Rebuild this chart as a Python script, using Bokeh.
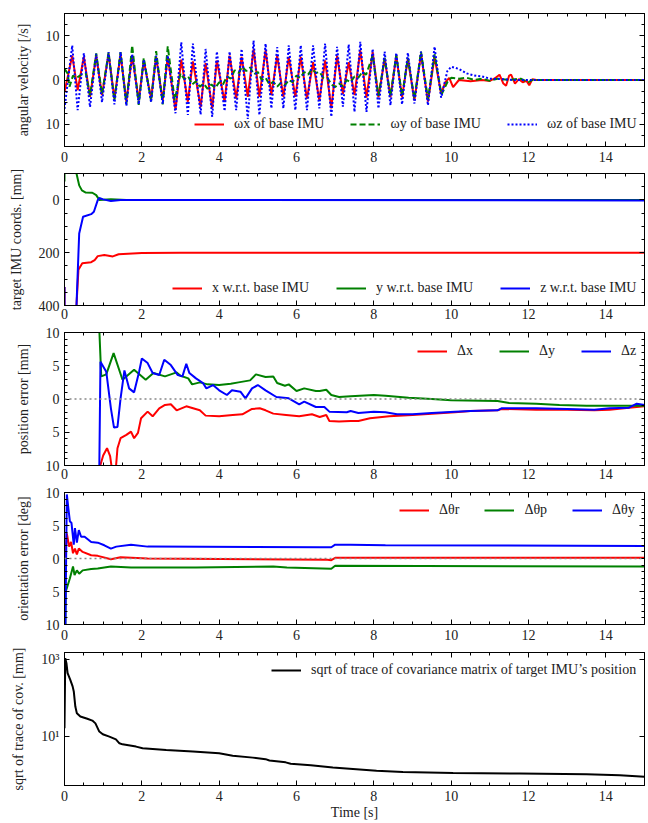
from bokeh.plotting import figure
from bokeh.models import (Range1d, FixedTicker, LinearAxis, LogAxis, Span, Legend, LegendItem)
from bokeh.layouts import column
from bokeh.embed import file_html
from bokeh.resources import INLINE

# ---------------- data ----------------
x_ticks = [0, 2, 4, 6, 8, 10, 12, 14]

# panel 1: angular velocity [/s] (extrema)
wx_pts = [(0.0, -2.7), (0.2, 5.5), (0.34, -2.3), (0.5, 5.2), (0.66, -3.8), (0.82, 5.5), (0.97, -3.4),
          (1.14, 5.9), (1.29, -4.2), (1.45, 5.7), (1.6, -4.9), (1.75, 5.5), (1.92, -4.6), (2.05, 4.4),
          (2.24, -4.2), (2.37, 5.2), (2.54, -4.6), (2.67, 5.2), (2.87, -6.8), (3.02, 4.6), (3.19, -4.9),
          (3.32, 4.2), (3.52, -6.1), (3.65, 3.8), (3.82, -6.4), (3.94, 4.4), (4.14, -4.9), (4.27, 5.5),
          (4.44, -4.2), (4.58, 5.2), (4.74, -3.8), (4.89, 6.9), (5.04, -3.8), (5.2, 6.7), (5.35, -3.4),
          (5.5, 5.5), (5.66, -3.8), (5.8, 5.2), (5.97, -3.8), (6.11, 5.2), (6.27, -4.2), (6.43, 4.0),
          (6.59, -4.6), (6.74, 4.4), (6.9, -6.4), (7.05, 5.5), (7.2, -3.1), (7.35, 4.0), (7.5, -3.4),
          (7.65, 6.7), (7.81, -4.0), (7.97, 6.3), (8.12, -3.9), (8.28, 4.8), (8.43, -3.9), (8.58, 5.5),
          (8.73, -3.9), (8.88, 4.8), (9.05, -4.6), (9.22, 5.9), (9.4, -4.9), (9.57, 5.2), (9.74, -3.1),
          (9.85, -0.5), (9.95, 0.5), (10.05, -1.6), (10.2, 0.0), (10.5, -0.3), (10.8, 0.0), (11.0, -0.2),
          (11.15, 0.5), (11.25, 1.2), (11.35, -0.8), (11.42, -1.3), (11.5, 1.0), (11.55, 1.2),
          (11.65, -0.8), (11.75, 0.2), (11.85, -0.5), (11.95, -0.2), (12.02, -1.2), (12.1, 0.2),
          (12.2, 0.0), (15.0, 0.0)]
wy_pts = [(0.0, 2.5), (0.08, 1.5), (0.13, -1.5), (0.22, 1.0), (0.3, 0.4), (0.45, 1.3), (0.55, 1.6),
          (0.66, -3.5), (0.82, 6.0), (0.97, -3.2), (1.14, 6.2), (1.29, -4.6), (1.45, 6.3), (1.6, -5.5),
          (1.75, 7.8), (1.92, -5.6), (2.05, 5.0), (2.24, -4.8), (2.37, 6.5), (2.54, -5.5), (2.67, 7.6),
          (2.85, -4.5), (3.0, 1.5), (3.1, 0.2), (3.2, 0.8), (3.3, -1.0), (3.4, -0.3), (3.5, -1.5),
          (3.6, -0.8), (3.7, -2.0), (3.8, -1.0), (3.9, -1.8), (4.0, -0.5), (4.1, -1.0), (4.2, 0.8),
          (4.3, 0.3), (4.4, 2.2), (4.5, 1.6), (4.6, 3.0), (4.7, 2.0), (4.8, 2.8), (4.9, 1.3), (5.0, 1.8),
          (5.1, 0.0), (5.2, 0.5), (5.3, -1.0), (5.4, -0.4), (5.5, -1.5), (5.6, -0.6), (5.7, -1.2),
          (5.8, 0.0), (5.9, -0.5), (6.0, 1.0), (6.1, 0.5), (6.2, 1.8), (6.3, 1.2), (6.4, 2.5), (6.5, 1.6),
          (6.6, 1.8), (6.7, 0.4), (6.8, 0.5), (6.9, -1.0), (7.0, -1.6), (7.1, -0.8), (7.2, -1.4),
          (7.3, 0.0), (7.4, -0.5), (7.5, 0.8), (7.6, 0.5), (7.7, 1.8), (7.8, 1.2), (7.97, 5.5),
          (8.12, -3.6), (8.28, 5.0), (8.43, -3.6), (8.58, 5.6), (8.73, -3.6), (8.88, 5.0), (9.05, -4.2),
          (9.22, 6.4), (9.4, -4.4), (9.57, 5.8), (9.75, -3.3), (9.9, -0.5), (10.0, 0.5), (10.2, 0.3),
          (10.4, 0.5), (10.6, 0.0), (10.8, 0.3), (11.0, -0.2), (11.2, 0.3), (11.5, 0.0), (11.8, 0.3),
          (12.0, -0.5), (12.1, 0.0), (15.0, 0.0)]
wz_pts = [(0.0, -6.5), (0.2, 7.8), (0.34, -6.8), (0.5, 6.0), (0.66, -6.1), (0.82, 5.9), (0.97, -5.0),
          (1.14, 6.3), (1.29, -5.5), (1.45, 6.3), (1.6, -5.8), (1.75, 5.8), (1.92, -5.5), (2.05, 4.6),
          (2.24, -5.0), (2.37, 5.5), (2.54, -5.4), (2.67, 5.5), (2.87, -7.5), (3.02, 8.5), (3.19, -7.9),
          (3.32, 8.2), (3.52, -7.8), (3.65, 7.0), (3.82, -8.3), (3.94, 6.4), (4.14, -7.0), (4.27, 6.4),
          (4.44, -6.8), (4.58, 7.0), (4.74, -8.8), (4.89, 8.9), (5.04, -7.9), (5.2, 8.2), (5.35, -6.4),
          (5.5, 7.4), (5.66, -6.4), (5.8, 7.8), (5.97, -6.8), (6.11, 7.8), (6.27, -6.8), (6.43, 7.8),
          (6.59, -6.4), (6.74, 8.2), (6.9, -8.3), (7.05, 7.5), (7.2, -6.0), (7.35, 8.0), (7.5, -7.2),
          (7.65, 8.6), (7.81, -7.2), (7.97, 7.0), (8.12, -6.4), (8.28, 6.4), (8.43, -5.7), (8.58, 6.1),
          (8.73, -5.5), (8.88, 6.1), (9.05, -5.3), (9.22, 6.4), (9.4, -5.7), (9.57, 7.5), (9.74, -4.0),
          (9.9, 2.0), (10.0, 3.0), (10.2, 2.5), (10.4, 1.5), (10.6, 1.0), (10.8, 0.8), (11.0, 0.3),
          (11.3, 0.2), (11.6, 0.0), (15.0, 0.0)]

# panel 2: target IMU coords [mm]
px_pts = [(0.0, 330), (0.01, 3000), (0.3, 3000), (0.31, 400), (0.36, 265), (0.46, 240), (0.69, 236),
          (0.78, 228), (0.86, 213), (1.03, 209), (1.25, 214), (1.4, 206), (2.0, 201), (3.0, 200), (15.0, 200)]
py_pts = [(0.0, -70), (0.01, -3000), (0.3, -3000), (0.31, -100), (0.38, -55), (0.45, -36), (0.55, -28),
          (0.72, -27), (0.82, -18), (0.9, 0), (1.2, -2), (1.6, 0), (15.0, 0)]
pz_pts = [(0.0, 330), (0.01, 3000), (0.29, 3000), (0.31, 400), (0.38, 127), (0.48, 64), (0.69, 54),
          (0.76, 45), (0.86, 1), (0.9, -7), (1.0, -2), (1.2, 4.5), (1.45, 0), (5.0, 0), (15.0, 2)]

# panel 3: position error [mm]
dx_pts = [(0.87, -30), (0.9, -10.5), (1.0, -8.5), (1.1, -7.4), (1.18, -8.6), (1.25, -11.5), (1.32, -11.0),
          (1.37, -7.4), (1.45, -5.9), (1.6, -5.4), (1.72, -4.9), (1.8, -5.9), (1.9, -5.1), (1.98, -2.9),
          (2.15, -1.9), (2.28, -2.6), (2.45, -1.4), (2.6, -0.9), (2.75, -0.8), (2.9, -1.7), (3.15, -1.1),
          (3.5, -1.7), (3.65, -2.5), (4.0, -2.6), (4.35, -2.4), (4.6, -2.3), (4.85, -1.5), (5.05, -1.4),
          (5.2, -1.7), (5.4, -2.2), (5.73, -2.4), (6.07, -2.6), (6.4, -2.3), (6.6, -2.7), (6.77, -2.4),
          (6.85, -3.3), (7.1, -3.4), (7.4, -3.3), (7.6, -3.3), (7.9, -2.9), (8.4, -2.6), (9.0, -2.4),
          (9.5, -2.2), (10.1, -2.0), (10.5, -1.8), (11.2, -1.7), (11.3, -1.5), (12.2, -1.6), (13.0, -1.6),
          (13.7, -1.7), (14.1, -1.6), (14.6, -1.3), (15.0, -1.1)]
dy_pts = [(0.87, 30), (0.9, 10.5), (0.95, 3.4), (1.08, 3.7), (1.27, 6.9), (1.5, 2.9), (1.8, 4.4), (2.1, 2.9),
          (2.3, 3.9), (2.6, 3.4), (2.9, 4.0), (3.0, 3.5), (3.2, 3.1), (3.3, 2.2), (3.5, 2.5), (3.7, 2.2),
          (4.0, 2.1), (4.3, 2.3), (4.5, 2.5), (4.8, 2.8), (4.95, 3.7), (5.2, 3.3), (5.4, 3.4), (5.5, 2.4),
          (5.7, 2.0), (5.8, 2.2), (6.0, 1.2), (6.2, 1.6), (6.5, 1.2), (6.6, 1.2), (6.77, 1.4), (6.9, 0.6),
          (7.1, 0.3), (7.4, 0.4), (8.0, 0.6), (8.3, 0.5), (8.9, 0.2), (9.5, 0.0), (10.0, -0.2), (11.2, -0.3),
          (11.5, -0.6), (12.2, -0.7), (12.8, -0.9), (13.5, -1.0), (15.0, -1.0)]
dz_pts = [(0.87, -30), (0.9, -10.5), (0.93, 5.6), (1.08, 4.1), (1.2, -1.4), (1.28, -4.3), (1.37, -4.2),
          (1.45, 0.1), (1.55, 4.3), (1.67, 1.6), (1.8, 1.0), (1.93, 4.1), (2.0, 6.1), (2.15, 5.4), (2.28, 3.9),
          (2.45, 3.6), (2.58, 5.9), (2.75, 5.1), (2.93, 3.6), (3.05, 3.4), (3.15, 5.3), (3.23, 3.9), (3.4, 3.1),
          (3.58, 2.4), (3.67, 1.6), (3.84, 2.1), (4.0, 1.3), (4.2, 0.6), (4.33, 1.3), (4.55, 1.1), (4.68, 0.1),
          (4.85, 1.6), (5.0, 2.1), (5.2, 1.3), (5.48, 0.3), (5.8, 0.1), (6.07, -0.8), (6.2, -0.4), (6.5, -1.2),
          (6.72, -1.2), (6.85, -1.9), (7.3, -2.0), (7.4, -1.8), (7.6, -2.1), (8.0, -1.9), (8.3, -2.0),
          (8.6, -2.3), (9.0, -2.3), (9.5, -2.1), (10.1, -1.9), (10.5, -1.8), (11.2, -1.7), (11.3, -1.4),
          (12.2, -1.4), (13.0, -1.5), (13.7, -1.6), (14.1, -1.4), (14.6, -1.3), (14.8, -0.7), (15.0, -0.9)]

# panel 4: orientation error [deg]
thr_pts = [(0.02, 0.0), (0.06, 3.8), (0.12, 1.8), (0.17, 2.5), (0.22, 0.8), (0.27, 1.5), (0.32, 0.6),
           (0.37, 1.5), (0.47, 1.0), (0.69, 0.5), (0.86, 0.4), (1.2, -0.1), (1.45, 0.2), (2.15, 0.0),
           (6.8, -0.2), (6.9, -0.25), (7.0, 0.1), (15.0, 0.1)]
thp_pts = [(0.02, -12.0), (0.03, -5.0), (0.06, -4.5), (0.14, -3.0), (0.22, -1.2), (0.26, -2.5), (0.32, -1.8),
           (0.38, -2.3), (0.47, -1.8), (0.69, -1.6), (0.86, -1.5), (1.2, -1.2), (1.72, -1.35), (3.4, -1.35),
           (5.4, -1.2), (5.75, -1.35), (6.9, -1.55), (7.0, -1.1), (15.0, -1.2)]
thy_pts = [(0.02, -12.0), (0.06, 9.7), (0.1, 7.6), (0.14, 5.6), (0.18, 5.4), (0.24, 2.1), (0.27, 4.6),
           (0.32, 2.4), (0.37, 4.3), (0.43, 3.3), (0.52, 3.3), (0.69, 2.5), (0.86, 2.4), (1.03, 2.0), (1.2, 1.5),
           (1.34, 1.8), (1.72, 2.1), (2.15, 1.8), (6.6, 1.7), (6.9, 1.7), (7.0, 2.1), (7.4, 2.1), (8.3, 2.0),
           (15.0, 1.9)]

# panel 5: sqrt of trace of covariance [mm]
cov_pts = [(0.0, 16.5), (0.02, 1080), (0.05, 800), (0.08, 440), (0.15, 295), (0.21, 200), (0.24, 148),
           (0.28, 60), (0.32, 40), (0.41, 33), (0.59, 29), (0.72, 26), (0.8, 22), (0.9, 13.5), (0.99, 11.5),
           (1.16, 10), (1.33, 8.5), (1.42, 6.7), (1.5, 6.3), (1.85, 5.5), (2.02, 5.0), (2.63, 4.5), (3.32, 4.1),
           (4.0, 3.7), (4.35, 3.2), (4.87, 2.85), (5.2, 2.6), (5.3, 2.4), (5.72, 2.15), (5.85, 1.98),
           (6.37, 1.8), (6.94, 1.57), (7.46, 1.45), (8.07, 1.31), (8.75, 1.21), (10.05, 1.14), (11.77, 1.1),
           (13.5, 1.05), (14.36, 0.99), (15.0, 0.91)]

# ---------------- styling ----------------
FONT = "Liberation Serif"
RED, GREEN, BLUE = "#ff0000", "#008000", "#0000ff"
x_minor = [i * 0.5 for i in range(0, 31)]


def unz(pts):
    return [a for a, _ in pts], [b for _, b in pts]


def style_axis(ax, labels=True):
    ax.major_tick_in = 5
    ax.major_tick_out = 0
    ax.minor_tick_in = 3
    ax.minor_tick_out = 0
    ax.axis_line_color = "black"
    ax.major_tick_line_color = "black"
    ax.minor_tick_line_color = "black"
    ax.major_label_text_font = FONT
    ax.axis_label_text_font = FONT
    ax.axis_label_text_font_style = "normal"
    ax.axis_label_text_font_size = "14px"
    ax.axis_label_text_color = "#222222"
    if labels:
        ax.major_label_text_font_size = "14px"
        ax.major_label_text_color = "#222222"
    else:
        ax.major_label_text_font_size = "1px"
        ax.major_label_text_color = None
        ax.major_label_standoff = 0


def make_fig(fh, y_range, ylabel, yticks, yminor, top=4, bottom=23, xstand=3, log=False,
             overrides=None, xlabel=None):
    p = figure(frame_width=580, frame_height=fh, x_range=Range1d(0, 15), y_range=y_range,
               y_axis_type="log" if log else "linear",
               output_backend="svg", toolbar_location=None,
               min_border_left=64, min_border_right=2, min_border_top=top, min_border_bottom=bottom)
    p.grid.visible = False
    p.outline_line_color = "black"
    p.background_fill_color = "white"
    p.border_fill_color = "white"
    xt = FixedTicker(ticks=x_ticks, minor_ticks=x_minor)
    yt = FixedTicker(ticks=yticks, minor_ticks=yminor)
    xa = p.xaxis[0]
    xa.ticker = xt
    style_axis(xa)
    xa.major_label_standoff = xstand
    if xlabel:
        xa.axis_label = xlabel
        xa.axis_label_standoff = 1
    ya = p.yaxis[0]
    ya.ticker = yt
    style_axis(ya)
    ya.major_label_standoff = 5
    ya.axis_label = ylabel
    ya.axis_label_standoff = 12
    if overrides:
        ya.major_label_overrides = overrides
    tp = LinearAxis(ticker=xt)
    style_axis(tp, labels=False)
    p.add_layout(tp, "above")
    right = LogAxis(ticker=yt) if log else LinearAxis(ticker=yt)
    style_axis(right, labels=False)
    p.add_layout(right, "right")
    return p


def add_legend(p, items, loc, spacing=26):
    leg = Legend(items=items, location=loc, orientation="horizontal",
                 label_text_font=FONT, label_text_font_size="14px", label_text_color="#222222",
                 glyph_width=30, glyph_height=16, label_height=16, label_standoff=10,
                 spacing=spacing, padding=0, margin=0,
                 background_fill_alpha=0, border_line_alpha=0)
    p.add_layout(leg)


# ---------- panel 1 ----------
p1 = make_fig(133, Range1d(-15, 15), "angular velocity [/s]", [-10, 0, 10],
              [-15, -12.5, -7.5, -5, -2.5, 2.5, 5, 7.5, 12.5, 15], top=13, bottom=23, xstand=5,
              overrides={-10: "10"})
t, v = unz(wx_pts)
r1 = p1.line(t, v, line_color=RED, line_width=2)
t, v = unz(wy_pts)
r2 = p1.line(t, v, line_color=GREEN, line_width=2, line_dash="6 3")
t, v = unz(wz_pts)
r3 = p1.line(t, v, line_color=BLUE, line_width=2, line_dash="2 2")
add_legend(p1, [LegendItem(label="ωx of base IMU", renderers=[r1]),
                LegendItem(label="ωy of base IMU", renderers=[r2]),
                LegendItem(label="ωz of base IMU", renderers=[r3])], (130, 14), spacing=26)

# ---------- panel 2 ----------
p2 = make_fig(132, Range1d(400, -100), "target IMU coords. [mm]", [0, 200, 400],
              [-100, -50, 50, 100, 150, 250, 300, 350], top=4, bottom=19, xstand=3)
t, v = unz(px_pts)
r1 = p2.line(t, v, line_color=RED, line_width=2)
t, v = unz(py_pts)
r2 = p2.line(t, v, line_color=GREEN, line_width=2)
t, v = unz(pz_pts)
r3 = p2.line(t, v, line_color=BLUE, line_width=2)
add_legend(p2, [LegendItem(label="x w.r.t. base IMU", renderers=[r1]),
                LegendItem(label="y w.r.t. base IMU", renderers=[r2]),
                LegendItem(label="z w.r.t. base IMU", renderers=[r3])], (108, 9), spacing=27)

# ---------- panel 3 ----------
minor10 = [i for i in range(-10, 11) if i % 5 != 0]
p3 = make_fig(133, Range1d(-10, 10), "position error [mm]", [-10, -5, 0, 5, 10], minor10,
              top=8, bottom=19, xstand=3, overrides={-10: "10", -5: "5"})
p3.add_layout(Span(location=0, dimension="width", line_color="#888888", line_dash="2 3", line_width=1.5))
t, v = unz(dx_pts)
r1 = p3.line(t, v, line_color=RED, line_width=2)
t, v = unz(dy_pts)
r2 = p3.line(t, v, line_color=GREEN, line_width=2)
t, v = unz(dz_pts)
r3 = p3.line(t, v, line_color=BLUE, line_width=2)
add_legend(p3, [LegendItem(label="Δx", renderers=[r1]),
                LegendItem(label="Δy", renderers=[r2]),
                LegendItem(label="Δz", renderers=[r3])], (353, 106), spacing=22)

# ---------- panel 4 ----------
p4 = make_fig(132, Range1d(-10, 10), "orientation error [deg]", [-10, -5, 0, 5, 10], minor10,
              top=8, bottom=21, xstand=5, overrides={-10: "10", -5: "5"})
p4.add_layout(Span(location=0, dimension="width", line_color="#888888", line_dash="2 3", line_width=1.5))
t, v = unz(thr_pts)
r1 = p4.line(t, v, line_color=RED, line_width=2)
t, v = unz(thp_pts)
r2 = p4.line(t, v, line_color=GREEN, line_width=2)
t, v = unz(thy_pts)
r3 = p4.line(t, v, line_color=BLUE, line_width=2)
add_legend(p4, [LegendItem(label="Δθr", renderers=[r1]),
                LegendItem(label="Δθp", renderers=[r2]),
                LegendItem(label="Δθy", renderers=[r3])], (335, 106), spacing=25)

# ---------- panel 5 ----------
p5 = make_fig(133, Range1d(0.54, 1510), "sqrt of trace of cov. [mm]", [10, 1000], [],
              top=7, bottom=38, xstand=5, log=True, overrides={10: "10¹", 1000: "10³"}, xlabel="Time [s]")
t, v = unz(cov_pts)
r1 = p5.line(t, v, line_color="black", line_width=2)
add_legend(p5, [LegendItem(label="sqrt of trace of covariance matrix of target IMU’s position",
                           renderers=[r1])], (207, 107))

layout = column(p1, p2, p3, p4, p5, spacing=0)
open("out.html", "w").write(file_html(layout, INLINE))
